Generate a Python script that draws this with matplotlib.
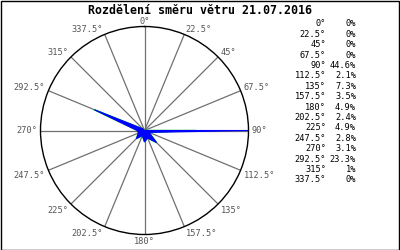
import numpy as np
import matplotlib
matplotlib.use("Agg")
import matplotlib.pyplot as plt
from matplotlib.patches import Rectangle

title = "Rozdělení směru větru 21.07.2016"
directions = [0, 22.5, 45, 67.5, 90, 112.5, 135, 157.5, 180, 202.5, 225, 247.5, 270, 292.5, 315, 337.5]
dir_labels = ["0°", "22.5°", "45°", "67.5°", "90°", "112.5°", "135°", "157.5°", "180°",
              "202.5°", "225°", "247.5°", "270°", "292.5°", "315°", "337.5°"]
percent = [0, 0, 0, 0, 44.6, 2.1, 7.3, 3.5, 4.9, 2.4, 4.9, 2.8, 3.1, 23.3, 1, 0]
percent_labels = ["0%", "0%", "0%", "0%", "44.6%", "2.1%", "7.3%", "3.5%", "4.9%", "2.4%",
                  "4.9%", "2.8%", "3.1%", "23.3%", "1%", "0%"]
green_series = [0, 0, 0, 0, 22.0, 2.1, 7.3, 3.5, 4.9, 2.4, 4.9, 2.8, 3.1, 23.6, 1, 0]

W, H = 400, 250
fig = plt.figure(figsize=(4, 2.5), dpi=100)
fig.patch.set_facecolor("white")
mono = "DejaVu Sans Mono"

cx, cy, R = 144.5, 130.5, 104
ax = fig.add_axes([(cx - R) / W, (H - cy - R) / H, 2 * R / W, 2 * R / H], projection="polar")
ax.set_theta_zero_location("N")
ax.set_theta_direction(-1)
rmax = max(percent)
ax.set_ylim(0, rmax)
ax.grid(False)
ax.set_xticks([])
ax.set_yticks([])
ax.spines["polar"].set_color("black")
ax.spines["polar"].set_linewidth(1.0)

theta = np.deg2rad(directions)
for t in theta:
    ax.plot([t, t], [0, rmax], color="#707070", lw=0.9, zorder=1)

tc = np.append(theta, theta[0])
gv = np.append(green_series, green_series[0])
bv = np.append(percent, percent[0])
ax.fill(tc, gv, color="#00dd00", lw=1.0, zorder=2)
ax.fill(tc, bv, color="#0000ff", edgecolor="#0000ff", lw=0.8, zorder=3)

for t, lab in zip(theta, dir_labels):
    s, c = np.sin(t), np.cos(t)
    ha = "left" if s > 0.01 else ("right" if s < -0.01 else "center")
    va = "baseline" if c > 0.01 else ("top" if c < -0.01 else "center")
    dx = 2.5 * s
    dy = 1.5 * c
    ax.annotate(lab, xy=(t, rmax), xytext=(dx, dy), textcoords="offset points",
                ha=ha, va=va, fontsize=6.2, family=mono, color="#555555",
                annotation_clip=False)

fig.text(200 / W, 1 - 14 / H, title, ha="center", va="baseline", fontsize=8.4,
         fontweight="bold", family=mono, color="black")

y0, dy_row = 24, 10.4
for i, (lab, p) in enumerate(zip(dir_labels, percent_labels)):
    y = 1 - (y0 + i * dy_row) / H
    fig.text(326 / W, y, lab, ha="right", va="center", fontsize=6.2, family=mono, color="black")
    fig.text(356 / W, y, p, ha="right", va="center", fontsize=6.2, family=mono, color="black")

fig.add_artist(Rectangle((0.5 / W, 0.5 / H), 1 - 1.5 / W, 1 - 1.5 / H, fill=False,
                         edgecolor="black", lw=1.0, transform=fig.transFigure))

fig.savefig("out.png", dpi=100)
